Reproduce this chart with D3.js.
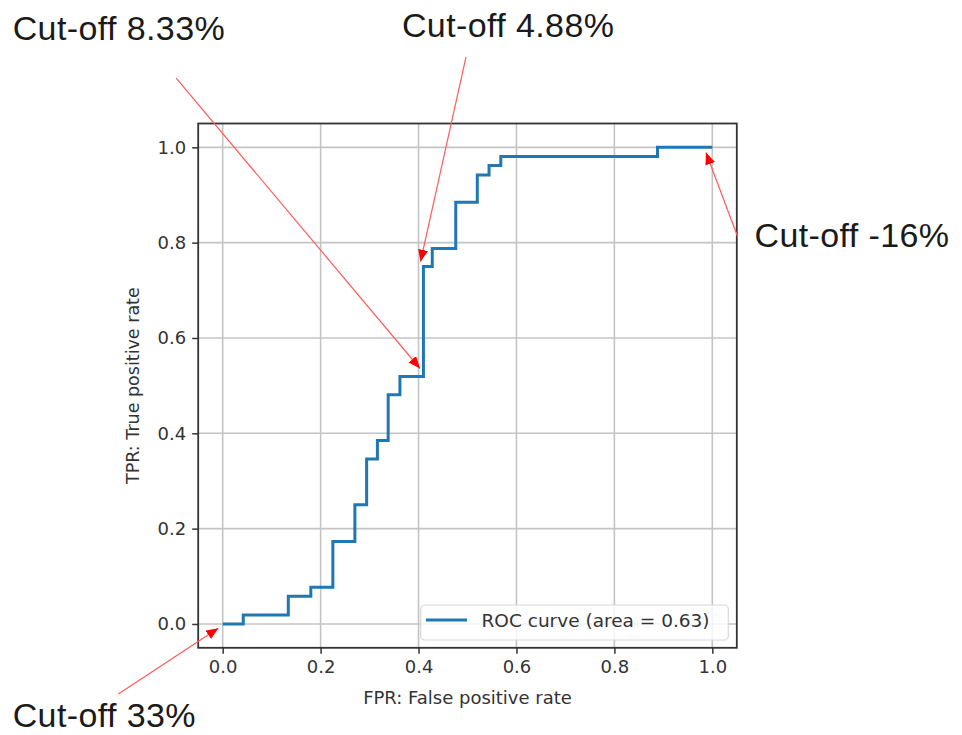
<!DOCTYPE html>
<html>
<head>
<meta charset="utf-8">
<script src="https://cdn.jsdelivr.net/npm/d3@7"></script>
<style>
  body { margin: 0; background: #fff; }
  svg { display: block; }
</style>
</head>
<body>
<div id="viz"></div>
<script>
// ROC points (fpr, tpr)
const fpr = [0, 0, 0.042, 0.042, 0.134, 0.134, 0.18, 0.18, 0.225, 0.225, 0.27, 0.27,
	0.294, 0.294, 0.316, 0.316, 0.338, 0.338, 0.362, 0.362, 0.41, 0.41, 0.428, 0.428,
	0.476, 0.476, 0.52, 0.52, 0.544, 0.544, 0.568, 0.568, 0.888, 0.888, 1.0];
const tpr = [0, 0, 0, 0.019, 0.019, 0.058, 0.058, 0.077, 0.077, 0.173, 0.173, 0.25,
	0.25, 0.346, 0.346, 0.385, 0.385, 0.481, 0.481, 0.519, 0.519, 0.75, 0.75, 0.788,
	0.788, 0.885, 0.885, 0.942, 0.942, 0.962, 0.962, 0.981, 0.981, 1.0, 1.0];
const ticks = [0, 0.2, 0.4, 0.6, 0.8, 1.0];
const tickLabels = ["0.0", "0.2", "0.4", "0.6", "0.8", "1.0"];
const legendLabel = "ROC curve (area = 0.63)";

// annotations: text, arrow tip, arrow tail, text anchor (all in data units)
const annText = ["Cut-off 8.33%", "Cut-off 4.88%", "Cut-off -16%", "Cut-off 33%"];
const annTip = [[0.403, 0.536], [0.404, 0.760], [0.987, 0.989], [-0.009, -0.009]];
const annTail = [[-0.095, 1.145], [0.497, 1.190], [1.052, 0.812], [-0.213, -0.147]];
const annPos = [[-0.429, 1.225], [0.366, 1.231], [1.086, 0.791], [-0.429, -0.216]];

function draw() {
	let W = 962, H = 735;
	let left = 198.2, right = 736.8, top = 123.5, bottom = 647.8;
	let font = "DejaVu Sans";

	let svg = d3.select("#viz").append("svg")
		.attr("width", W).attr("height", H);

	let x = d3.scaleLinear().domain([-0.05, 1.05]).range([left, right]);
	let y = d3.scaleLinear().domain([-0.05, 1.05]).range([bottom, top]);

	// grid
	let grid = svg.append("g");
	ticks.forEach(t => {
		grid.append("line")
			.attr("x1", x(t)).attr("x2", x(t))
			.attr("y1", top).attr("y2", bottom)
			.attr("stroke", "#c4c4c4").attr("stroke-width", 1.6);
		grid.append("line")
			.attr("x1", left).attr("x2", right)
			.attr("y1", y(t)).attr("y2", y(t))
			.attr("stroke", "#c4c4c4").attr("stroke-width", 1.6);
	});

	// curve
	let pts = fpr.map((f, i) => [f, tpr[i]]);
	svg.append("path")
		.datum(pts)
		.attr("d", d3.line().x(d => x(d[0])).y(d => y(d[1])))
		.attr("fill", "none")
		.attr("stroke", "#1f77b4")
		.attr("stroke-width", 3)
		.attr("stroke-linejoin", "miter");

	// axes
	let xAxis = svg.append("g")
		.attr("transform", "translate(0," + bottom + ")")
		.call(d3.axisBottom(x).tickValues(ticks).tickFormat((d, i) => tickLabels[i])
			.tickSize(6).tickPadding(6).tickSizeOuter(0));
	let yAxis = svg.append("g")
		.attr("transform", "translate(" + left + ",0)")
		.call(d3.axisLeft(y).tickValues(ticks).tickFormat((d, i) => tickLabels[i])
			.tickSize(6).tickPadding(6).tickSizeOuter(0));
	[xAxis, yAxis].forEach(a => {
		a.select(".domain").remove();
		a.selectAll(".tick line").attr("stroke", "#333").attr("stroke-width", 1.5);
		a.selectAll(".tick text")
			.style("font-family", font).style("font-size", "18px").attr("fill", "#333");
	});

	// frame
	svg.append("rect")
		.attr("x", left).attr("y", top)
		.attr("width", right - left).attr("height", bottom - top)
		.attr("fill", "none").attr("stroke", "#333").attr("stroke-width", 1.8);

	// axis labels
	svg.append("text").text("FPR: False positive rate")
		.attr("x", (left + right) / 2).attr("y", 704)
		.attr("text-anchor", "middle")
		.style("font-family", font).style("font-size", "18px").attr("fill", "#333");
	svg.append("text").text("TPR: True positive rate")
		.attr("transform", "translate(139," + (top + bottom) / 2 + ") rotate(-90)")
		.attr("text-anchor", "middle")
		.style("font-family", font).style("font-size", "17.5px").attr("fill", "#333");

	// legend
	let lg = svg.append("g");
	lg.append("rect")
		.attr("x", 420.7).attr("y", 605)
		.attr("width", 307.6).attr("height", 35)
		.attr("rx", 4).attr("ry", 4)
		.attr("fill", "white").attr("fill-opacity", 0.8)
		.attr("stroke", "#d8d8d8").attr("stroke-width", 1.2);
	lg.append("line")
		.attr("x1", 426).attr("x2", 467)
		.attr("y1", 620).attr("y2", 620)
		.attr("stroke", "#1f77b4").attr("stroke-width", 3);
	lg.append("text").text(legendLabel)
		.attr("x", 481.5).attr("y", 627)
		.style("font-family", font).style("font-size", "18.5px").attr("fill", "#333");

	// arrow heads
	svg.append("defs").append("marker")
		.attr("id", "head")
		.attr("viewBox", "0 0 12 10")
		.attr("refX", 12).attr("refY", 5)
		.attr("markerWidth", 12).attr("markerHeight", 10)
		.attr("markerUnits", "userSpaceOnUse")
		.attr("orient", "auto")
		.append("path")
		.attr("d", "M0,0 L12,5 L0,10 Z")
		.attr("fill", "#ff0000");

	// annotations
	annText.forEach((t, i) => {
		svg.append("line")
			.attr("x1", x(annTail[i][0])).attr("y1", y(annTail[i][1]))
			.attr("x2", x(annTip[i][0])).attr("y2", y(annTip[i][1]))
			.attr("stroke", "#ff5a5a").attr("stroke-width", 1.2)
			.attr("marker-end", "url(#head)");
		svg.append("text").text(t)
			.attr("x", x(annPos[i][0])).attr("y", y(annPos[i][1]))
			.style("font-family", "Liberation Sans")
			.style("font-size", "34px")
			.style("letter-spacing", "0.4px")
			.attr("fill", "#1a1a1a");
	});
}
draw();
</script>
</body>
</html>
